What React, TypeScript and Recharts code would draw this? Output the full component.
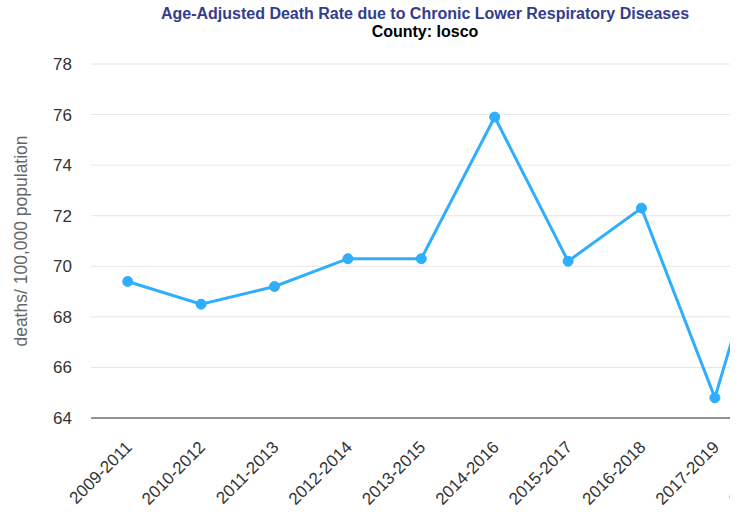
import React from "react";
import { LineChart, Line, XAxis, YAxis, CartesianGrid } from "recharts";

const categories = [
  "2009-2011",
  "2010-2012",
  "2011-2013",
  "2012-2014",
  "2013-2015",
  "2014-2016",
  "2015-2017",
  "2016-2018",
  "2017-2019",
  "2018-2020",
];
const rates = [69.4, 68.5, 69.2, 70.3, 70.3, 75.9, 70.2, 72.3, 64.8, 74.6];
const yTicks = [64, 66, 68, 70, 72, 74, 76, 78];

const title = "Age-Adjusted Death Rate due to Chronic Lower Respiratory Diseases";
const subtitle = "County: Iosco";
const yLabel = "deaths/ 100,000 population";

const data = categories.map((c, i) => ({ period: c, rate: rates[i] }));

const FONT = "'Liberation Sans', Arial, Helvetica, sans-serif";
const LINE_COLOR = "#2eaefc";

const XTick = (props: any) => {
  const { x, y, payload } = props;
  return (
    <g transform={`translate(${x + 1},${y + 24})`}>
      <text
        transform="rotate(-45)"
        textAnchor="end"
        dy="0.35em"
        fill="#333333"
        fontSize={17}
        fontFamily={FONT}
      >
        {payload.value}
      </text>
    </g>
  );
};

const YTitle = (props: any) => {
  const { viewBox } = props;
  const cx = viewBox.x + 21;
  const cy = viewBox.y + viewBox.height / 2;
  return (
    <text
      x={cx}
      y={cy}
      transform={`rotate(-90, ${cx}, ${cy})`}
      textAnchor="middle"
      dominantBaseline="central"
      fill="#666666"
      fontSize={17.5}
      fontFamily={FONT}
    >
      {yLabel}
    </text>
  );
};

export default function App() {
  const W = 850;
  const H = 512;
  return (
    <div
      style={{
        position: "fixed",
        left: 0,
        top: 0,
        width: 730,
        height: H,
        overflow: "hidden",
        background: "#ffffff",
        fontFamily: FONT,
      }}
    >
      <div style={{ position: "absolute", left: 0, top: 0, width: W, height: H }}>
        <div
          style={{
            position: "absolute",
            left: 0,
            top: 5,
            width: W,
            textAlign: "center",
            fontSize: 16,
            fontWeight: "bold",
            color: "#333d8f",
            lineHeight: "18px",
          }}
        >
          {title}
        </div>
        <div
          style={{
            position: "absolute",
            left: 0,
            top: 23,
            width: W,
            textAlign: "center",
            fontSize: 16,
            fontWeight: "bold",
            color: "#000000",
            lineHeight: "18px",
          }}
        >
          {subtitle}
        </div>
        <LineChart
          width={W}
          height={H}
          data={data}
          margin={{ top: 64, right: 25, bottom: 0, left: 0 }}
        >
          <CartesianGrid vertical={false} stroke="#e6e6e6" strokeWidth={1} />
          <XAxis
            dataKey="period"
            height={94}
            padding={{ left: 36.7, right: 36.7 }}
            axisLine={{ stroke: "#333333", strokeWidth: 1 }}
            tickLine={false}
            tickSize={0}
            tick={<XTick />}
            interval={0}
          />
          <YAxis
            width={91}
            domain={[64, 78]}
            ticks={yTicks}
            axisLine={false}
            tickLine={false}
            tickSize={0}
            tickMargin={19}
            tick={{ fill: "#333333", fontSize: 17, fontFamily: FONT }}
            label={{ content: <YTitle /> } as any}
          />
          <Line
            type="linear"
            dataKey="rate"
            stroke={LINE_COLOR}
            strokeWidth={3}
            dot={{ r: 5, fill: LINE_COLOR, stroke: LINE_COLOR, strokeWidth: 1 }}
            activeDot={false}
            isAnimationActive={false}
          />
        </LineChart>
      </div>
    </div>
  );
}
